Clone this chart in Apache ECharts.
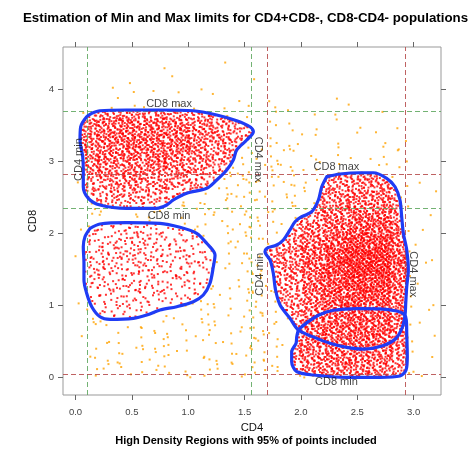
<!DOCTYPE html>
<html>
<head>
<meta charset="utf-8">
<script src="https://cdn.jsdelivr.net/npm/echarts@6/dist/echarts.min.js"></script>
<style>
  html, body { margin: 0; padding: 0; background: #ffffff; }
  #chart { width: 472px; height: 449px; }
</style>
</head>
<body>
<div id="chart"></div>
<script>
// ---- axis ticks ----
const cd4Ticks = [0, 0.5, 1, 1.5, 2, 2.5, 3];
const cd8Ticks = [0, 1, 2, 3, 4];

// ---- gate limits: [CD4 min, CD4 max, CD8 min, CD8 max] ----
const limitsLeft  = [0.10, 1.56, 2.35, 3.70];   // upper-left population (green)
const limitsRight = [1.70, 2.93, 0.05, 2.82];   // right population (red)

// ---- high density region outlines (CD4, CD8) ----
const regionUpperLeft = [
  [0.144,3.667],[0.217,3.703],[0.454,3.713],[0.750,3.713],[1.045,3.703],[1.253,3.644],
  [1.430,3.565],[1.548,3.481],[1.578,3.412],[1.519,3.297],[1.430,3.158],[1.400,3.019],
  [1.342,2.881],[1.253,2.742],[1.164,2.627],[0.987,2.558],[0.868,2.465],[0.809,2.395],
  [0.720,2.349],[0.454,2.349],[0.217,2.395],[0.114,2.488],[0.069,2.649],[0.069,2.881],
  [0.064,3.065],[0.040,3.297],[0.046,3.481],[0.099,3.620]
];
const regionMidLeft = [
  [0.129,2.072],[0.217,2.132],[0.454,2.150],[0.750,2.141],[0.927,2.086],[1.075,2.003],
  [1.164,1.864],[1.238,1.702],[1.223,1.540],[1.193,1.309],[1.134,1.147],[1.045,1.054],
  [0.898,0.985],[0.750,0.939],[0.632,0.870],[0.513,0.824],[0.306,0.810],[0.217,0.846],
  [0.144,0.985],[0.099,1.171],[0.075,1.355],[0.075,1.587],[0.069,1.817],[0.084,1.956]
];
const regionRightUpper = [
  [2.229,2.788],[2.347,2.825],[2.524,2.843],[2.642,2.843],[2.761,2.766],[2.835,2.649],
  [2.879,2.465],[2.894,2.233],[2.909,2.003],[2.939,1.771],[2.953,1.494],[2.939,1.262],
  [2.930,1.030],[2.924,0.870],[2.900,0.700],[2.840,0.540],[2.720,0.440],[2.554,0.396],
  [2.406,0.420],[2.258,0.477],[2.110,0.566],[1.977,0.662],[1.903,0.824],[1.815,1.008],
  [1.775,1.216],[1.755,1.448],[1.726,1.632],[1.681,1.748],[1.697,1.795],[1.785,1.841],
  [1.844,1.910],[1.903,2.049],[1.948,2.164],[2.007,2.233],[2.096,2.302],[2.155,2.465],
  [2.185,2.649]
];
const regionRightLower = [
  [1.977,0.662],[2.050,0.760],[2.160,0.870],[2.290,0.935],[2.500,0.958],[2.700,0.955],
  [2.850,0.925],[2.915,0.880],[2.935,0.800],[2.939,0.616],[2.944,0.291],[2.933,0.107],
  [2.879,0.024],[2.702,0.005],[2.406,0.005],[2.110,0.037],[1.963,0.083],[1.918,0.222],
  [1.918,0.361],[1.957,0.477],[1.963,0.569]
];

// ---- event counts per 0.2 x 0.2 cell (columns CD4 0.0..3.2, rows CD8 4.4 down to -0.2) ----
const cellSize = 0.2;
const cellCD4Start = 0.0;
const cellCD8Top = 4.4;
const countsInside = [
  [0,0,0,0,0,0,0,0,0,0,0,0,0,0,0,0],
  [0,0,0,0,0,0,0,0,0,0,0,0,0,0,0,0],
  [0,0,0,0,0,0,0,0,0,0,0,0,0,0,0,0],
  [30,40,45,45,40,35,25,15,0,0,0,0,0,0,0,0],
  [50,60,65,65,60,50,40,30,0,0,0,0,0,0,0,0],
  [55,65,70,70,65,55,45,35,0,0,0,0,0,0,0,0],
  [50,60,65,65,60,50,40,30,0,0,0,0,0,0,0,0],
  [45,50,55,55,50,40,30,20,0,0,0,40,45,45,35,0],
  [35,40,45,40,35,30,20,10,0,0,30,40,45,45,35,0],
  [25,30,30,30,25,20,10,5,0,0,35,45,55,55,40,0],
  [15,20,20,15,10,8,5,0,0,25,40,55,65,65,45,0],
  [12,14,14,12,10,8,6,0,20,30,50,65,80,80,55,0],
  [14,16,18,16,13,10,8,0,30,40,60,80,100,100,65,0],
  [15,18,20,18,15,12,9,0,35,45,70,95,120,120,75,0],
  [14,17,18,16,14,11,8,0,35,45,70,100,125,120,75,0],
  [12,15,16,14,12,10,7,0,30,40,65,90,110,105,70,0],
  [10,12,13,12,10,8,6,0,25,35,60,80,95,90,60,0],
  [8,10,10,9,8,6,5,0,20,35,55,75,85,80,55,0],
  [0,0,0,0,0,0,0,0,15,35,60,75,80,75,55,0],
  [0,0,0,0,0,0,0,0,10,35,60,70,75,70,50,0],
  [0,0,0,0,0,0,0,0,10,35,55,65,65,60,45,0],
  [0,0,0,0,0,0,0,0,10,30,50,55,55,50,40,0],
  [0,0,0,0,0,0,0,0,0,0,0,0,0,0,0,0]
];
const countsOutside = [
  [0,0,0,1,0,0,1,0,0,0,0,0,0,0,0,0],
  [0,1,1,0,1,0,0,1,0,0,0,0,0,0,0,0],
  [0,1,1,1,1,1,1,1,1,0,0,1,0,0,0,0],
  [1,2,1,1,1,1,2,2,2,1,1,1,1,1,0,0],
  [1,0,0,0,0,0,1,2,2,2,1,1,1,1,1,0],
  [1,0,0,0,0,0,1,2,3,2,2,1,1,2,1,0],
  [1,0,0,0,0,1,2,3,4,3,2,2,1,2,2,0],
  [1,0,0,0,0,2,3,4,4,4,3,2,2,2,2,0],
  [1,0,0,1,2,3,4,4,4,4,3,2,2,2,2,1],
  [2,1,2,3,4,4,4,4,4,4,3,2,2,2,2,1],
  [2,3,3,3,3,3,4,4,4,3,3,2,2,2,2,1],
  [2,2,2,2,3,3,4,4,4,3,3,2,2,2,2,1],
  [2,0,0,0,0,2,3,4,4,3,3,2,2,2,2,1],
  [2,0,0,0,0,2,3,4,4,3,3,2,2,2,2,1],
  [2,0,0,0,0,2,3,4,4,3,3,2,2,2,2,1],
  [2,0,0,0,0,2,3,4,4,3,3,2,2,2,2,1],
  [2,0,0,0,2,3,3,4,4,3,3,2,2,2,2,1],
  [2,2,2,2,3,3,3,4,4,3,3,2,2,2,2,1],
  [2,3,3,3,3,3,3,4,4,3,3,2,2,2,2,1],
  [2,3,3,3,3,3,3,4,4,3,3,2,2,2,2,1],
  [2,3,3,3,3,3,3,4,4,3,3,2,2,2,2,1],
  [2,3,3,3,3,3,3,4,4,3,3,2,2,2,2,1],
  [0,0,0,0,0,0,0,0,0,0,0,0,0,0,0,0]
];

// ---- helpers ----
const regions = [regionUpperLeft, regionMidLeft, regionRightUpper, regionRightLower];

function pointInPolygon(poly, x, y) {
  let hit = false;
  for (let i = 0, j = poly.length - 1; i < poly.length; j = i++) {
    const xi = poly[i][0], yi = poly[i][1], xj = poly[j][0], yj = poly[j][1];
    if ((yi > y) !== (yj > y) && x < (xj - xi) * (y - yi) / (yj - yi) + xi) hit = !hit;
  }
  return hit;
}
function inAnyRegion(x, y) {
  return regions.some(p => pointInPolygon(p, x, y));
}

// Spread each cell's events evenly over the cell: three interleaved
// Kronecker (low-discrepancy) sequences with different generators.
const KRONECKER = [
  [0.7548776662466927, 0.5698402909980532, 0.50, 0.50],
  [0.4142135623730950, 0.7320508075688772, 0.13, 0.71],
  [0.2360679774997897, 0.6457513110645906, 0.83, 0.29]
];
function layOutCells(counts, keep) {
  const out = [];
  counts.forEach((row, r) => {
    row.forEach((n, c) => {
      const x0 = cellCD4Start + c * cellSize;
      const y0 = cellCD8Top - (r + 1) * cellSize;
      const id = r * row.length + c;
      for (let k = 0; k < n; k++) {
        const g = KRONECKER[(k + id) % 3];
        const t = id * 577 + Math.floor(k / 3) + 1;
        const u = (g[2] + t * g[0]) % 1;
        const v = (g[3] + t * g[1]) % 1;
        const x = x0 + u * cellSize, y = y0 + v * cellSize;
        if (keep(x, y)) out.push([x, y]);
      }
    });
  });
  return out;
}

const eventsInside = layOutCells(countsInside, (x, y) => inAnyRegion(x, y));
const eventsOutside = layOutCells(countsOutside, (x, y) => !inAnyRegion(x, y));

const closed = p => p.concat([p[0]]);

// ---- limit labels (offsets are in the rotated text frame) ----
function limitLabels(l) {
  const midCD4 = (l[0] + l[1]) / 2, midCD8 = (l[2] + l[3]) / 2;
  return [
    { value: [midCD4, l[3]], name: 'CD8 max', label: { offset: [0, -7] } },
    { value: [midCD4, l[2]], name: 'CD8 min', label: { offset: [0, 8] } },
    { value: [l[0], midCD8], name: 'CD4 min', label: { rotate: 90, offset: [0, -7.5] } },
    { value: [l[1], midCD8], name: 'CD4 max', label: { rotate: -90, offset: [0, -7] } }
  ];
}

function limitLines(l, color) {
  return {
    type: 'scatter', data: [], z: 3, silent: true,
    markLine: {
      silent: true, symbol: 'none', animation: false,
      label: { show: false },
      lineStyle: { color: color, width: 1, type: [5, 3] },
      data: [{ xAxis: l[0] }, { xAxis: l[1] }, { yAxis: l[2] }, { yAxis: l[3] }]
    }
  };
}

function outline(poly) {
  return {
    type: 'line', data: closed(poly), z: 5, silent: true,
    showSymbol: false, symbol: 'none', smooth: 0.3,
    lineStyle: { color: '#1f3cf5', width: 3.2, cap: 'round', join: 'round' }
  };
}

const FONT = 'Liberation Sans, Arial, Helvetica, sans-serif';
const X_MIN = -0.111, X_MAX = 3.243, Y_MIN = -0.240, Y_MAX = 4.587;

function axis(position, min, max, ticks, labelOpts) {
  return {
    type: 'value', position: position, min: min, max: max,
    splitLine: { show: false },
    axisLine: { show: false, onZero: false },
    axisTick: { show: true, inside: false, length: 5, customValues: ticks, lineStyle: { color: '#666', width: 1 } },
    axisLabel: labelOpts
  };
}

const chart = echarts.init(document.getElementById('chart'), null, { renderer: 'canvas' });
chart.setOption({
  animation: false,
  backgroundColor: '#ffffff',
  grid: {
    left: 63, top: 47, width: 378, height: 348,
    show: true, borderColor: '#999', borderWidth: 1, backgroundColor: 'transparent',
    outerBoundsMode: 'none'
  },
  xAxis: [
    axis('bottom', X_MIN, X_MAX, cd4Ticks,
      { customValues: cd4Ticks, formatter: v => v.toFixed(1), fontSize: 9.5, color: '#444', fontFamily: FONT, margin: 12 }),
    axis('top', X_MIN, X_MAX, cd4Ticks, { show: false })
  ],
  yAxis: [
    axis('left', Y_MIN, Y_MAX, cd8Ticks,
      { customValues: cd8Ticks, formatter: v => String(v), fontSize: 9.5, color: '#444', fontFamily: FONT, margin: 9 }),
    axis('right', Y_MIN, Y_MAX, cd8Ticks, { show: false })
  ],
  series: [
    {
      type: 'scatter', data: eventsOutside, z: 1, silent: true, progressive: 0,
      symbol: 'rect', symbolSize: 2, itemStyle: { color: '#ffa200' }
    },
    {
      type: 'scatter', data: eventsInside, z: 2, silent: true, progressive: 0,
      symbol: 'rect', symbolSize: 2, itemStyle: { color: '#ff0000' }
    },
    limitLines(limitsLeft, 'rgba(90,165,90,0.85)'),
    limitLines(limitsRight, 'rgba(180,70,70,0.85)'),
    outline(regionUpperLeft),
    outline(regionMidLeft),
    outline(regionRightUpper),
    outline(regionRightLower),
    {
      type: 'scatter', z: 10, silent: true, symbolSize: 1,
      itemStyle: { color: 'transparent' },
      data: limitLabels(limitsLeft).concat(limitLabels(limitsRight)),
      label: {
        show: true, position: 'inside', formatter: p => p.name,
        fontSize: 11, color: '#111', fontFamily: FONT
      }
    }
  ],
  graphic: [
    {
      type: 'text', x: 245.5, y: 18,
      style: {
        text: 'Estimation of Min and Max limits for CD4+CD8-, CD8-CD4- populations',
        font: 'bold 13.3px ' + FONT, fill: '#000',
        align: 'center', verticalAlign: 'middle', textAlign: 'center', textVerticalAlign: 'middle'
      }
    },
    {
      type: 'text', x: 252, y: 428,
      style: {
        text: 'CD4', font: '11.3px ' + FONT, fill: '#111',
        align: 'center', verticalAlign: 'middle', textAlign: 'center', textVerticalAlign: 'middle'
      }
    },
    {
      type: 'text', x: 246, y: 441,
      style: {
        text: 'High Density Regions with 95% of points included', font: 'bold 11px ' + FONT, fill: '#000',
        align: 'center', verticalAlign: 'middle', textAlign: 'center', textVerticalAlign: 'middle'
      }
    },
    {
      type: 'text', x: 33, y: 221, rotation: Math.PI / 2,
      style: {
        text: 'CD8', font: '11.3px ' + FONT, fill: '#111',
        align: 'center', verticalAlign: 'middle', textAlign: 'center', textVerticalAlign: 'middle'
      }
    }
  ]
});
</script>
</body>
</html>
